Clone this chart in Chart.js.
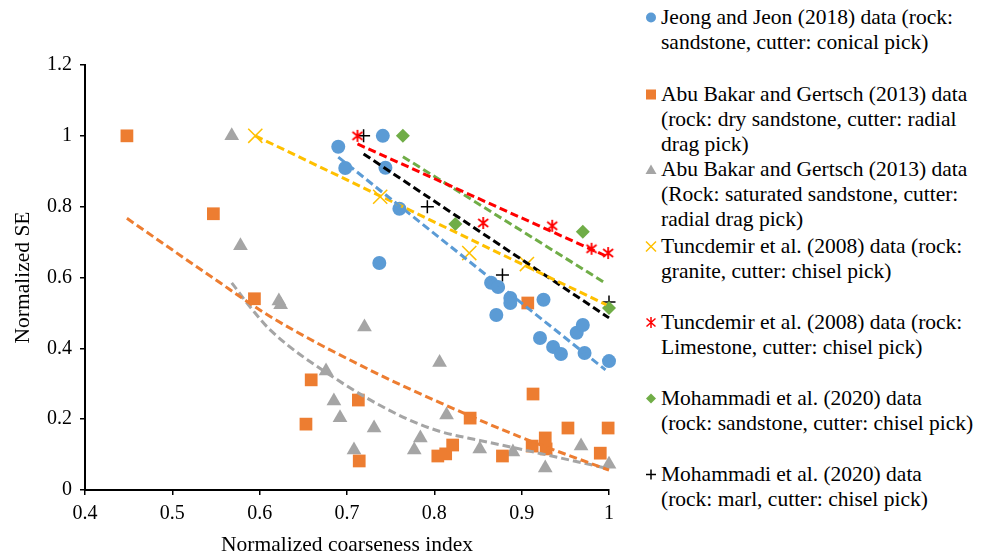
<!DOCTYPE html>
<html>
<head>
<meta charset="utf-8">
<script src="https://cdn.jsdelivr.net/npm/chart.js@4.4.1/dist/chart.umd.min.js"></script>
<style>
  body { margin: 0; background: #fff; font-family: 'Liberation Serif'; }
  #wrap { position: relative; width: 987px; height: 558px; }
  #plot { position: absolute; left: 0; top: 0; width: 640px; height: 558px; }
  .key { position: absolute; left: 644px; font-family: 'Liberation Serif'; font-size: 21.5px; line-height: 25px; color: #000; white-space: nowrap; }
  .key svg { position: absolute; left: 0; top: 6px; }
  .key div { margin-left: 17px; }
</style>
</head>
<body>
<div id="wrap">
  <div id="plot"><canvas id="chart"></canvas></div>

  <div class="key" style="top:5px">
    <svg width="14" height="13"><circle cx="7" cy="6.5" r="5" fill="#5B9BD5"/></svg>
    <div>Jeong and Jeon (2018) data (rock:<br>sandstone, cutter: conical pick)</div>
  </div>
  <div class="key" style="top:82px">
    <svg width="14" height="13"><rect x="2" y="1.5" width="10" height="10" fill="#ED7D31"/></svg>
    <div>Abu Bakar and Gertsch (2013) data<br>(rock: dry sandstone, cutter: radial<br>drag pick)</div>
  </div>
  <div class="key" style="top:157px">
    <svg width="14" height="13"><polygon points="7,1.5 12.5,11 1.5,11" fill="#A5A5A5"/></svg>
    <div>Abu Bakar and Gertsch (2013) data<br>(Rock: saturated sandstone, cutter:<br>radial drag pick)</div>
  </div>
  <div class="key" style="top:234px">
    <svg width="14" height="13"><path d="M2 1.5 L12 11.5 M12 1.5 L2 11.5" stroke="#FFC000" stroke-width="1.5"/></svg>
    <div>Tuncdemir et al. (2008) data (rock:<br>granite, cutter: chisel pick)</div>
  </div>
  <div class="key" style="top:310px">
    <svg width="14" height="13"><path d="M7 1 L7 12 M2.5 2.5 L11.5 10.5 M11.5 2.5 L2.5 10.5" stroke="#FF0000" stroke-width="1.5"/></svg>
    <div>Tuncdemir et al. (2008) data (rock:<br>Limestone, cutter: chisel pick)</div>
  </div>
  <div class="key" style="top:386px">
    <svg width="14" height="13"><polygon points="7,1.5 12,6.5 7,11.5 2,6.5" fill="#70AD47"/></svg>
    <div>Mohammadi et al. (2020) data<br>(rock: sandstone, cutter: chisel pick)</div>
  </div>
  <div class="key" style="top:462px">
    <svg width="14" height="13"><path d="M7 1.5 L7 11.5 M2 6.5 L12 6.5" stroke="#000" stroke-width="1.5"/></svg>
    <div>Mohammadi et al. (2020) data<br>(rock: marl, cutter: chisel pick)</div>
  </div>
</div>

<script>
// measured points, one pair of arrays per data source
const jeongX = [0.690, 0.698, 0.741, 0.744, 0.760, 0.737, 0.865, 0.873, 0.871, 0.887, 0.887, 0.925, 0.921, 0.936, 0.945, 0.963, 0.970, 0.972, 1.000];
const jeongY = [0.969, 0.909, 1.000, 0.910, 0.794, 0.641, 0.585, 0.573, 0.494, 0.542, 0.528, 0.537, 0.429, 0.404, 0.384, 0.444, 0.466, 0.387, 0.364];

const dryX = [0.448, 0.547, 0.594, 0.659, 0.653, 0.713, 0.714, 0.804, 0.813, 0.821, 0.841, 0.878, 0.907, 0.913, 0.912, 0.927, 0.928, 0.953, 0.990, 0.999];
const dryY = [1.000, 0.780, 0.540, 0.311, 0.186, 0.254, 0.082, 0.096, 0.102, 0.127, 0.203, 0.096, 0.528, 0.271, 0.124, 0.147, 0.116, 0.175, 0.104, 0.175];

const satX = [0.568, 0.578, 0.622, 0.624, 0.720, 0.676, 0.685, 0.692, 0.708, 0.731, 0.806, 0.814, 0.784, 0.777, 0.852, 0.890, 0.927, 0.968, 1.000];
const satY = [1.000, 0.690, 0.534, 0.523, 0.460, 0.336, 0.251, 0.204, 0.113, 0.175, 0.360, 0.212, 0.147, 0.113, 0.116, 0.107, 0.062, 0.124, 0.073];

const graniteX = [0.595, 0.738, 0.840, 0.906];
const graniteY = [1.000, 0.828, 0.669, 0.638];

const limeX = [0.712, 0.856, 0.935, 0.980, 0.999];
const limeY = [1.000, 0.754, 0.746, 0.681, 0.669];

const mohSandX = [0.764, 0.824, 0.970, 1.000];
const mohSandY = [1.000, 0.751, 0.729, 0.514];

const marlX = [0.719, 0.792, 0.878, 1.000];
const marlY = [1.000, 0.800, 0.607, 0.531];

// trend lines
const jeongFitX = [0.690, 0.996];
const jeongFitY = [0.940, 0.339];
const dryFitX = [0.448, 0.547, 0.612, 0.726, 0.807, 0.898, 1.000];
const dryFitY = [0.767, 0.598, 0.490, 0.339, 0.246, 0.150, 0.056];
const satFitX = [0.568, 0.592, 0.612, 0.689, 0.764, 0.807, 0.852, 0.890, 1.000];
const satFitY = [0.585, 0.508, 0.452, 0.311, 0.206, 0.165, 0.140, 0.120, 0.060];
const graniteFitX = [0.595, 0.997];
const graniteFitY = [1.000, 0.523];
const limeFitX = [0.712, 0.999];
const limeFitY = [0.977, 0.658];
const mohSandFitX = [0.764, 0.996];
const mohSandFitY = [0.941, 0.584];
const marlFitX = [0.719, 1.000];
const marlFitY = [0.949, 0.486];

const xTickLabels = ["0.4", "0.5", "0.6", "0.7", "0.8", "0.9", "1"];
const yTickLabels = ["0", "0.2", "0.4", "0.6", "0.8", "1", "1.2"];

const toPoints = (xs, ys) => xs.map((x, i) => ({ x: x, y: ys[i] }));

// asterisk marker: vertical stroke plus an X, no horizontal bar
function asteriskMarker(color) {
    const c = document.createElement("canvas");
    c.width = 14;
    c.height = 14;
    const g = c.getContext("2d");
    g.strokeStyle = color;
    g.lineWidth = 1.8;
    g.beginPath();
    g.moveTo(7, 1); g.lineTo(7, 13);
    g.moveTo(2, 3); g.lineTo(12, 11);
    g.moveTo(12, 3); g.lineTo(2, 11);
    g.stroke();
    return c;
}

function markers(label, xs, ys, color, style, radius, extra) {
    return Object.assign({
        label: label,
        data: toPoints(xs, ys),
        pointStyle: style,
        pointRadius: radius,
        pointHoverRadius: radius,
        backgroundColor: color,
        borderColor: color,
        borderWidth: 0,
        clip: false,
    }, extra || {});
}

function trend(xs, ys, color, curved) {
    return {
        data: toPoints(xs, ys),
        showLine: true,
        borderColor: color,
        borderWidth: 3,
        borderDash: [8, 4],
        pointRadius: 0,
        pointHoverRadius: 0,
        fill: false,
        cubicInterpolationMode: curved ? "monotone" : "default",
        clip: false,
    };
}

const serif = "'Liberation Serif'";

new Chart(document.getElementById("chart").getContext("2d"), {
    type: "scatter",
    data: {
        datasets: [
            trend(jeongFitX, jeongFitY, "#5B9BD5"),
            trend(dryFitX, dryFitY, "#ED7D31", true),
            trend(satFitX, satFitY, "#A5A5A5", true),
            trend(graniteFitX, graniteFitY, "#FFC000"),
            trend(limeFitX, limeFitY, "#FF0000"),
            trend(mohSandFitX, mohSandFitY, "#70AD47"),
            trend(marlFitX, marlFitY, "#000000"),
            markers("Jeong and Jeon (2018)", jeongX, jeongY, "#5B9BD5", "circle", 7),
            markers("Abu Bakar and Gertsch (2013) dry", dryX, dryY, "#ED7D31", "rect", 9),
            markers("Abu Bakar and Gertsch (2013) saturated", satX, satY, "#A5A5A5", "triangle", 8.5),
            markers("Tuncdemir et al. (2008) granite", graniteX, graniteY, "#FFC000", "crossRot", 10, { borderWidth: 1.5 }),
            markers("Tuncdemir et al. (2008) limestone", limeX, limeY, "#FF0000", asteriskMarker("#FF0000"), 7),
            markers("Mohammadi et al. (2020) sandstone", mohSandX, mohSandY, "#70AD47", "rectRot", 7),
            markers("Mohammadi et al. (2020) marl", marlX, marlY, "#000000", "cross", 6.5, { borderWidth: 1.5 }),
        ],
    },
    options: {
        responsive: true,
        maintainAspectRatio: false,
        animation: false,
        layout: { padding: { top: 65, right: 31, left: 0, bottom: 0 } },
        plugins: {
            legend: { display: false },
            tooltip: { enabled: false },
        },
        scales: {
            x: {
                type: "linear",
                min: 0.4,
                max: 1.0,
                afterFit: (scale) => { scale.height = 68; },
                title: {
                    display: true,
                    text: "Normalized coarseness index",
                    color: "#000",
                    font: { family: serif, size: 21.5 },
                    padding: { top: 0, bottom: 0 },
                },
                ticks: {
                    stepSize: 0.1,
                    color: "#000",
                    padding: 7,
                    font: { family: serif, size: 20 },
                    callback: (value, index) => xTickLabels[index],
                },
                grid: { drawOnChartArea: false, tickLength: 5, color: "#000", lineWidth: 1.5 },
                border: { color: "#000", width: 2 },
            },
            y: {
                type: "linear",
                min: 0,
                max: 1.2,
                afterFit: (scale) => { scale.width = 85; },
                title: {
                    display: true,
                    text: "Normalized SE",
                    color: "#000",
                    font: { family: serif, size: 21.5 },
                    padding: { top: 10, bottom: 0 },
                },
                ticks: {
                    stepSize: 0.2,
                    color: "#000",
                    padding: 8,
                    font: { family: serif, size: 20 },
                    callback: (value, index) => yTickLabels[index],
                },
                grid: { drawOnChartArea: false, tickLength: 5, color: "#000", lineWidth: 1.5 },
                border: { color: "#000", width: 2 },
            },
        },
    },
});
</script>
</body>
</html>
